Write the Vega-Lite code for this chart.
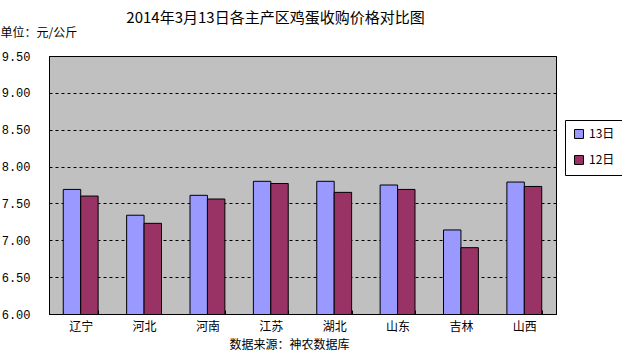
{
  "$schema": "https://vega.github.io/schema/vega-lite/v6.json",
  "width": 507,
  "height": 258,
  "autosize": {"type": "none"},
  "padding": {"left": 49, "top": 56, "right": 66, "bottom": 44},
  "background": "white",
  "title": {
    "text": "2014年3月13日各主产区鸡蛋收购价格对比图",
    "font": "Noto Sans CJK SC",
    "fontSize": 15,
    "fontWeight": "normal",
    "color": "black",
    "anchor": "middle",
    "dx": -27,
    "offset": 0,
    "limit": 400
  },
  "data": {
    "values": [
      {"region": "辽宁", "day": "13日", "price": 7.69},
      {"region": "辽宁", "day": "12日", "price": 7.60},
      {"region": "河北", "day": "13日", "price": 7.34},
      {"region": "河北", "day": "12日", "price": 7.23},
      {"region": "河南", "day": "13日", "price": 7.61},
      {"region": "河南", "day": "12日", "price": 7.56},
      {"region": "江苏", "day": "13日", "price": 7.80},
      {"region": "江苏", "day": "12日", "price": 7.77},
      {"region": "湖北", "day": "13日", "price": 7.80},
      {"region": "湖北", "day": "12日", "price": 7.65},
      {"region": "山东", "day": "13日", "price": 7.75},
      {"region": "山东", "day": "12日", "price": 7.69},
      {"region": "吉林", "day": "13日", "price": 7.14},
      {"region": "吉林", "day": "12日", "price": 6.90},
      {"region": "山西", "day": "13日", "price": 7.79},
      {"region": "山西", "day": "12日", "price": 7.73}
    ]
  },
  "mark": {"type": "bar", "stroke": "black", "strokeWidth": 1, "clip": true},
  "encoding": {
    "x": {
      "field": "region",
      "type": "nominal",
      "sort": ["辽宁", "河北", "河南", "江苏", "湖北", "山东", "吉林", "山西"],
      "scale": {"paddingInner": 0.45, "paddingOuter": 0.225},
      "axis": {
        "title": "数据来源：神农数据库",
        "titleFont": "Noto Sans CJK SC",
        "titleFontSize": 12,
        "titleFontWeight": "normal",
        "titleColor": "black",
        "titlePadding": 7,
        "titleX": 240,
        "labelAngle": 0,
        "labelFont": "Noto Sans CJK SC",
        "labelFontSize": 12,
        "labelColor": "black",
        "labelPadding": 11,
        "domainColor": "black",
        "tickColor": "black",
        "tickBand": "extent",
        "tickSize": -4,
        "grid": false
      }
    },
    "xOffset": {
      "field": "day",
      "type": "nominal",
      "sort": ["13日", "12日"],
      "scale": {"paddingInner": 0, "paddingOuter": 0}
    },
    "y": {
      "field": "price",
      "type": "quantitative",
      "scale": {"domain": [6, 9.5], "nice": false, "zero": false},
      "axis": {
        "values": [6, 6.5, 7, 7.5, 8, 8.5, 9, 9.5],
        "format": ".2f",
        "title": "单位：元/公斤",
        "titleFont": "Noto Sans CJK SC",
        "titleFontSize": 12,
        "titleFontWeight": "normal",
        "titleColor": "black",
        "titleAngle": 0,
        "titleAlign": "left",
        "titleBaseline": "middle",
        "titleX": -49,
        "titleY": -24,
        "labelFont": "Liberation Mono",
        "labelFontSize": 12,
        "labelColor": "black",
        "labelPadding": 19,
        "ticks": false,
        "domainColor": "black",
        "grid": true,
        "gridColor": "black",
        "gridDash": [3, 3],
        "gridWidth": 1
      }
    },
    "color": {
      "field": "day",
      "type": "nominal",
      "sort": ["13日", "12日"],
      "scale": {"domain": ["13日", "12日"], "range": ["#9999FF", "#993366"]},
      "legend": {
        "title": null,
        "orient": "none",
        "legendX": 516,
        "legendY": 64,
        "fillColor": "white",
        "strokeColor": "black",
        "padding": 8,
        "rowPadding": 12,
        "symbolType": "square",
        "symbolSize": 80,
        "symbolStrokeColor": "black",
        "symbolStrokeWidth": 1,
        "labelFont": "Noto Sans CJK SC",
        "labelFontSize": 12,
        "labelColor": "black"
      }
    }
  },
  "config": {
    "view": {"fill": "#C0C0C0", "stroke": "black", "strokeWidth": 1}
  }
}
